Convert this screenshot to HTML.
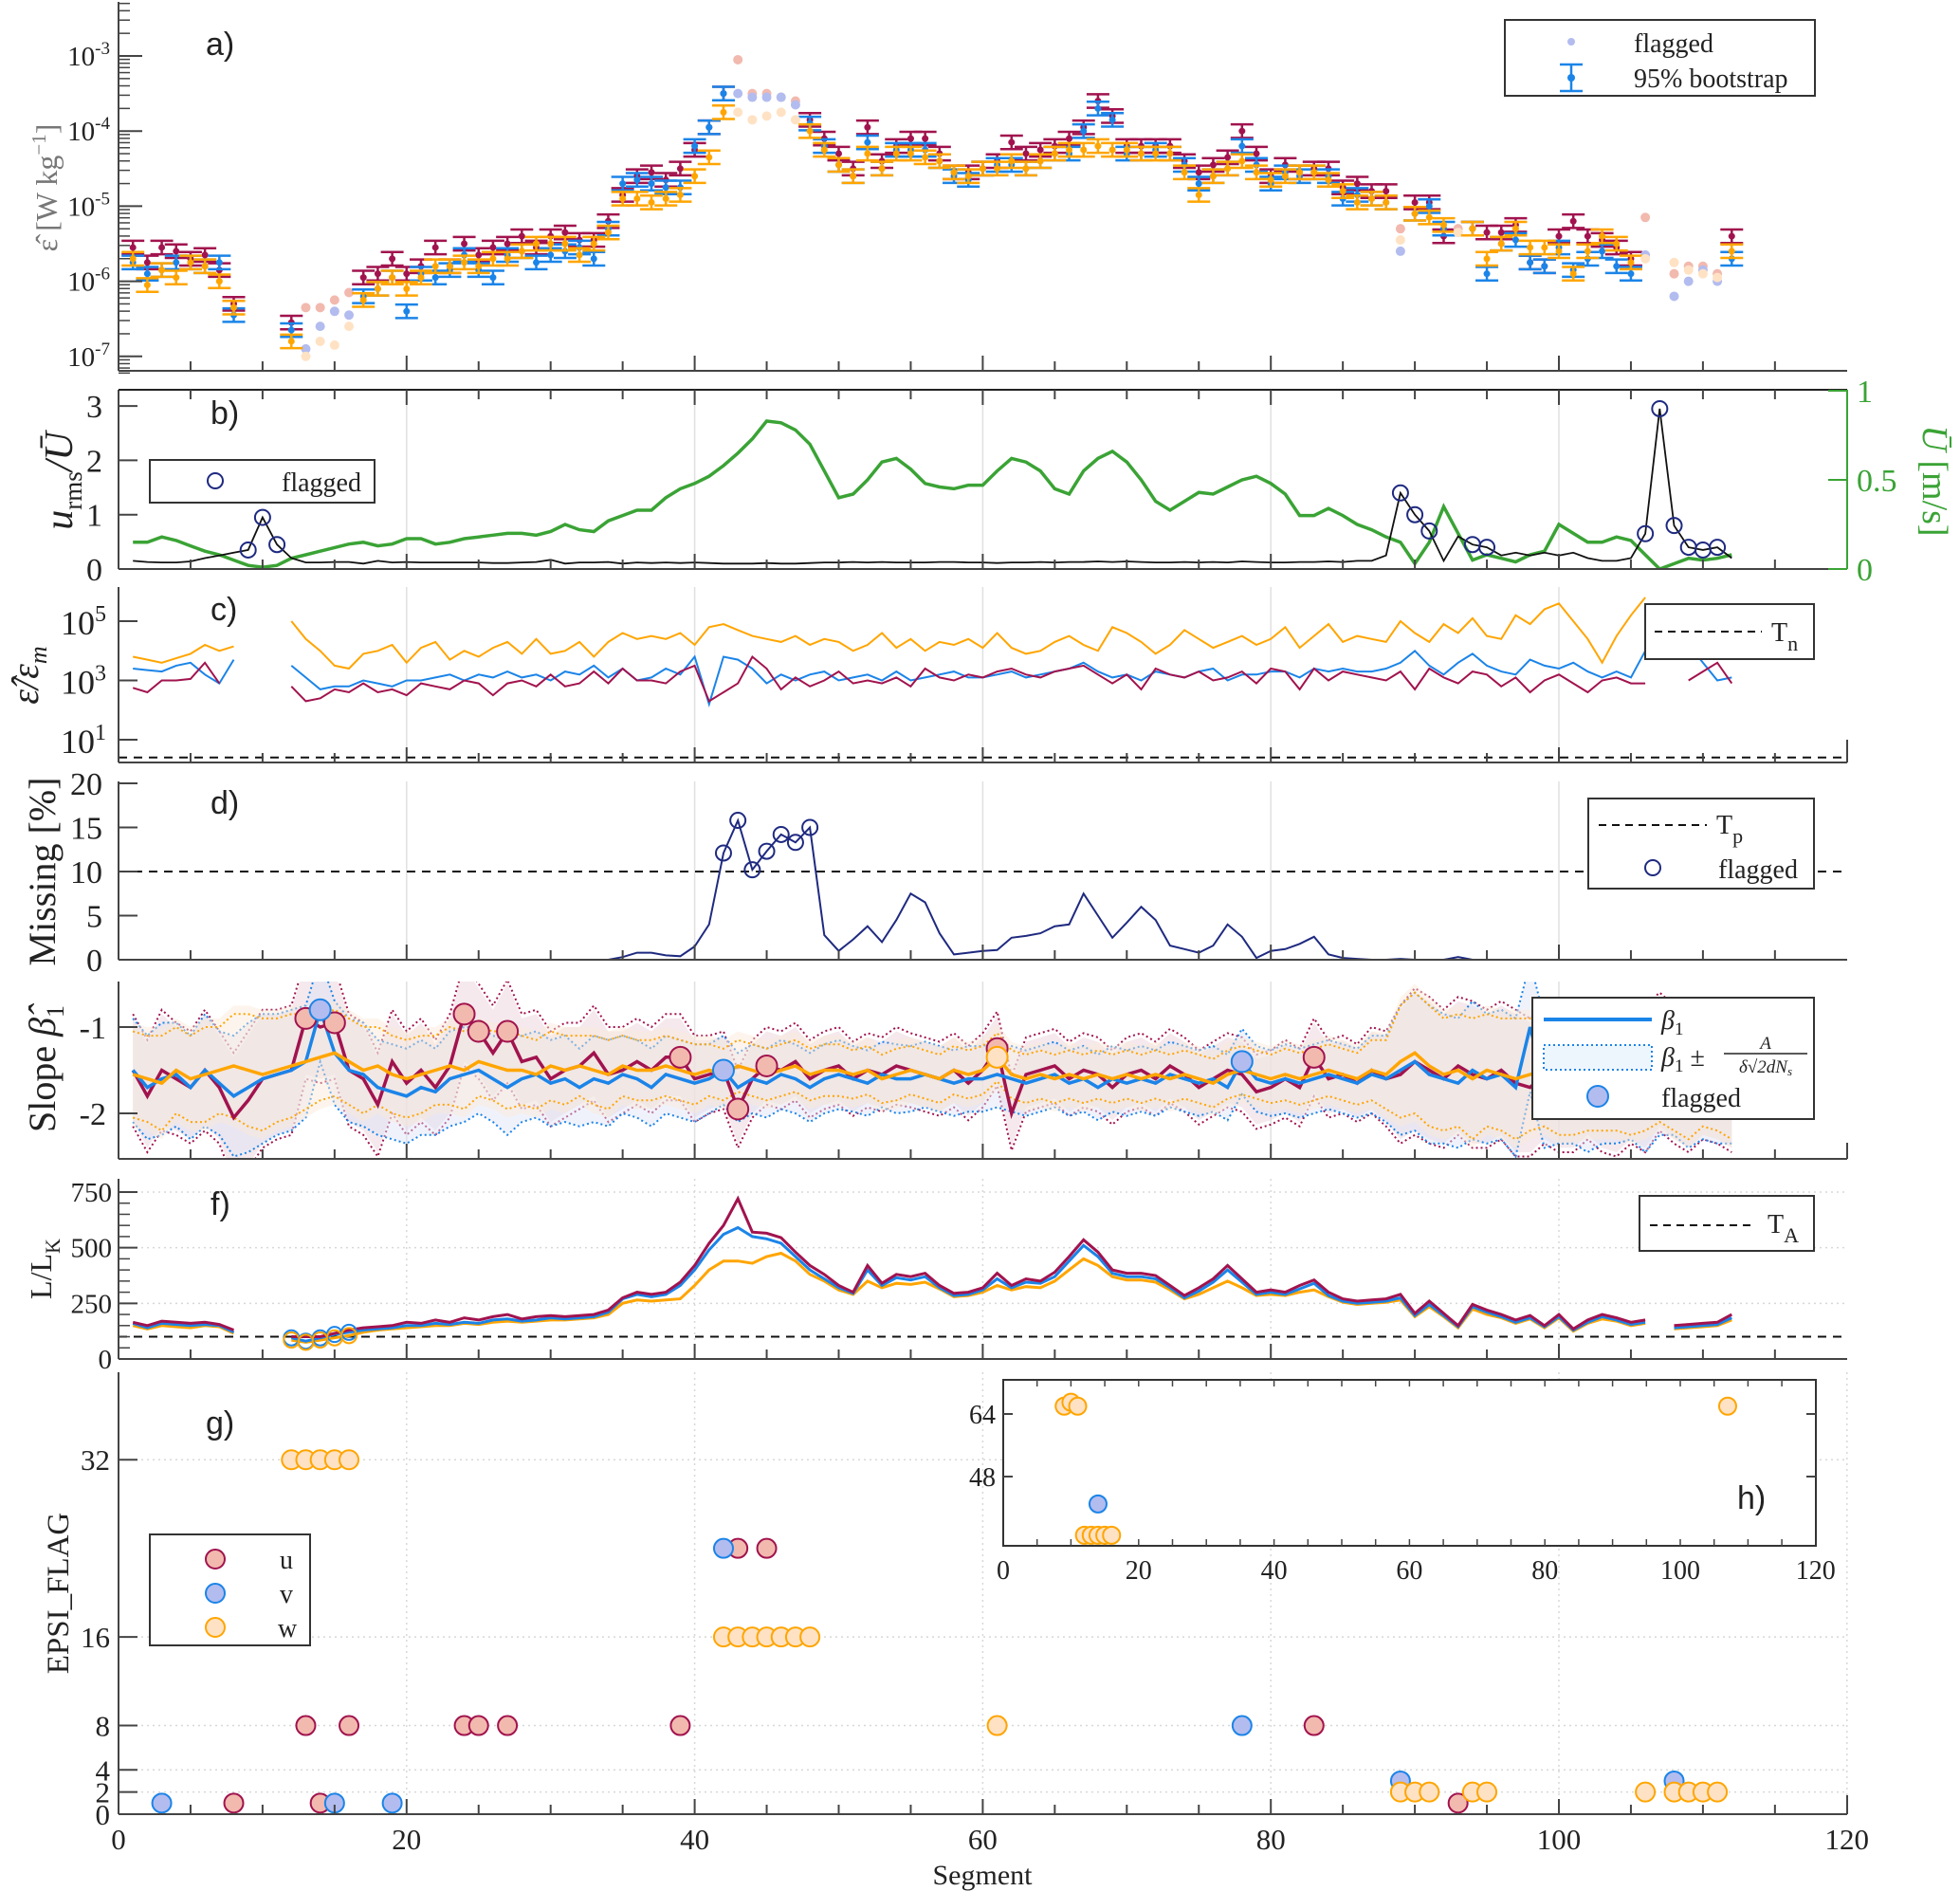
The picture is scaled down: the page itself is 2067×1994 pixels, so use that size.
<!DOCTYPE html>
<html><head><meta charset="utf-8"><style>
html,body{margin:0;padding:0;background:#fff;}
svg{display:block;font-family:"Liberation Serif",serif;}
svg text{font-family:"Liberation Serif",serif;}
</style></head><body>
<svg id="chart" xmlns="http://www.w3.org/2000/svg" width="2067" height="1994" viewBox="0 0 2067 1994">
<defs>
<clipPath id="clipA"><rect x="125" y="0" width="1823" height="391"/></clipPath>
<clipPath id="clipB"><rect x="125" y="411" width="1823" height="189"/></clipPath>
<clipPath id="clipC"><rect x="125" y="619" width="1823" height="185"/></clipPath>
<clipPath id="clipD"><rect x="125" y="824" width="1823" height="188"/></clipPath>
<clipPath id="clipE"><rect x="125" y="1035" width="1823" height="187"/></clipPath>
<clipPath id="clipF"><rect x="125" y="1243" width="1823" height="190"/></clipPath>
</defs>
<g id="grid"></g>
<g id="marks"></g>
<g id="axes"></g>
<g id="labels" font-size="29" fill="#222">
  <text x="217" y="58" style="font-family:'Liberation Sans',sans-serif" font-size="34">a)</text>
  <text x="222" y="447" style="font-family:'Liberation Sans',sans-serif" font-size="34">b)</text>
  <text x="222" y="654" style="font-family:'Liberation Sans',sans-serif" font-size="34">c)</text>
  <text x="222" y="858" style="font-family:'Liberation Sans',sans-serif" font-size="34">d)</text>
  <text x="222" y="1281" style="font-family:'Liberation Sans',sans-serif" font-size="34">f)</text>
  <text x="217" y="1512" style="font-family:'Liberation Sans',sans-serif" font-size="34">g)</text>
  <text x="1832" y="1591" style="font-family:'Liberation Sans',sans-serif" font-size="34">h)</text>
  <text transform="translate(60,198) rotate(-90)" text-anchor="middle" font-size="32" fill="#777">ε̂ [W kg<tspan font-size="21" dy="-12">−1</tspan><tspan dy="12">]</tspan></text>
  <text transform="translate(76,507) rotate(-90)" text-anchor="middle" font-size="42" font-style="italic">u<tspan font-size="27" font-style="normal" dy="10">rms</tspan><tspan dy="-10">/Ū</tspan></text>
  <text transform="translate(2028,507) rotate(90)" text-anchor="middle" font-size="38" fill="#3aa335"><tspan font-style="italic">Ū</tspan> [m/s]</text>
  <text transform="translate(40,712) rotate(-90)" text-anchor="middle" font-size="40" font-style="italic">ε̂/ε<tspan font-size="26" dy="9">m</tspan></text>
  <text transform="translate(58,919) rotate(-90)" text-anchor="middle" font-size="40">Missing [%]</text>
  <text transform="translate(58,1127) rotate(-90)" text-anchor="middle" font-size="40">Slope <tspan font-style="italic">β̂</tspan><tspan font-size="26" dy="9">1</tspan></text>
  <text transform="translate(54,1338) rotate(-90)" text-anchor="middle" font-size="32">L/L<tspan font-size="22" dy="9">K</tspan></text>
  <text transform="translate(72,1680) rotate(-90)" text-anchor="middle" font-size="33">EPSI_FLAG</text>
  <text x="1036" y="1987" text-anchor="middle" font-size="30">Segment</text>
</g>
<g id="legends" font-size="28" fill="#222">
  <g>
    <rect x="1587" y="21" width="327" height="80" fill="#fff" stroke="#333" stroke-width="2"/>
    <circle cx="1657" cy="44" r="4" fill="#b3bcef"/>
    <text x="1723" y="55">flagged</text>
    <line x1="1657" y1="68" x2="1657" y2="96" stroke="#1b84e8" stroke-width="2.5"/>
    <line x1="1645" y1="68" x2="1669" y2="68" stroke="#1b84e8" stroke-width="2.5"/>
    <line x1="1645" y1="96" x2="1669" y2="96" stroke="#1b84e8" stroke-width="2.5"/>
    <circle cx="1657" cy="82" r="4" fill="#1b84e8"/>
    <text x="1723" y="92">95% bootstrap</text>
  </g>
  <g>
    <rect x="158" y="485" width="237" height="45" fill="#fff" stroke="#333" stroke-width="2"/>
    <circle cx="227" cy="507" r="8" fill="none" stroke="#1f2a80" stroke-width="2"/>
    <text x="297" y="518">flagged</text>
  </g>
  <g>
    <rect x="1735" y="637" width="178" height="58" fill="#fff" stroke="#333" stroke-width="2"/>
    <line x1="1745" y1="666" x2="1858" y2="666" stroke="#111" stroke-width="2" stroke-dasharray="8,6"/>
    <text x="1868" y="676">T<tspan font-size="22" dy="10">n</tspan></text>
  </g>
  <g>
    <rect x="1675" y="842" width="238" height="95" fill="#fff" stroke="#333" stroke-width="2"/>
    <line x1="1686" y1="870" x2="1800" y2="870" stroke="#111" stroke-width="2" stroke-dasharray="8,6"/>
    <text x="1810" y="879">T<tspan font-size="22" dy="10">p</tspan></text>
    <circle cx="1743" cy="915" r="8" fill="none" stroke="#1f2a80" stroke-width="2"/>
    <text x="1812" y="926">flagged</text>
  </g>
  <g>
    <rect x="1616" y="1052" width="297" height="128" fill="#fff" stroke="#333" stroke-width="2"/>
    <line x1="1628" y1="1075" x2="1742" y2="1075" stroke="#1b84e8" stroke-width="4"/>
    <text x="1752" y="1085" font-style="italic">β<tspan font-size="19" font-style="normal" dy="6">1</tspan></text>
    <rect x="1628" y="1102" width="114" height="26" fill="#eef6fd" stroke="#1b84e8" stroke-width="2" stroke-dasharray="2,3"/>
    <text x="1752" y="1124" font-style="italic">β<tspan font-size="19" font-style="normal" dy="6">1</tspan><tspan dy="-6" font-style="normal"> ±</tspan></text>
    <text x="1862" y="1106" font-size="19" font-style="italic" text-anchor="middle">A</text>
    <line x1="1818" y1="1111" x2="1906" y2="1111" stroke="#222" stroke-width="1.5"/>
    <text x="1862" y="1131" font-size="19" font-style="italic" text-anchor="middle">δ√2dN<tspan font-size="13" dy="3">s</tspan></text>
    <circle cx="1685" cy="1156" r="11" fill="#b3bcef" stroke="#1b84e8" stroke-width="2"/>
    <text x="1752" y="1167">flagged</text>
  </g>
  <g>
    <rect x="1729" y="1261" width="184" height="58" fill="#fff" stroke="#333" stroke-width="2"/>
    <line x1="1740" y1="1292" x2="1852" y2="1292" stroke="#111" stroke-width="2" stroke-dasharray="8,6"/>
    <text x="1864" y="1300">T<tspan font-size="22" dy="10">A</tspan></text>
  </g>
  <g>
    <rect x="158" y="1618" width="169" height="117" fill="#fff" stroke="#333" stroke-width="2"/>
    <circle cx="227" cy="1644" r="10" fill="#f2b9ae" stroke="#a1134e" stroke-width="2"/>
    <text x="295" y="1654">u</text>
    <circle cx="227" cy="1680" r="10" fill="#b3bcef" stroke="#1b84e8" stroke-width="2"/>
    <text x="295" y="1690">v</text>
    <circle cx="227" cy="1716" r="10" fill="#ffe2c4" stroke="#ffa500" stroke-width="2"/>
    <text x="293" y="1726">w</text>
  </g>
</g>
</svg>
<script>
// ---------- DATA (index 0 = segment 1) ----------
const segCount = 112;
const epsU = [-5.55,-5.75,-5.55,-5.6,-5.7,-5.65,-5.85,-6.3,null,null,
null,-6.55,-6.35,-6.35,-6.25,-6.15,-5.95,-5.9,-5.7,-5.9,
-5.8,-5.55,-5.8,-5.5,-5.65,-5.55,-5.5,-5.4,-5.55,-5.4,
-5.35,-5.45,-5.45,-5.2,-4.85,-4.6,-4.55,-4.65,-4.5,-4.25,
-3.95,-3.5,-3.05,-3.5,-3.5,-3.55,-3.6,-3.85,-4.1,-4.3,
-4.5,-3.95,-4.4,-4.2,-4.1,-4.1,-4.3,-4.55,-4.55,-4.5,
-4.4,-4.15,-4.3,-4.25,-4.2,-4.1,-3.95,-3.6,-3.8,-4.2,
-4.2,-4.2,-4.2,-4.4,-4.55,-4.45,-4.35,-4.0,-4.3,-4.6,
-4.45,-4.55,-4.5,-4.5,-4.75,-4.7,-4.8,-4.8,-5.3,-4.95,
-4.95,-5.4,-5.3,-5.3,-5.35,-5.35,-5.25,-5.75,-5.8,-5.4,
-5.2,-5.4,-5.45,-5.55,-5.7,-5.15,null,-5.9,-5.8,-5.8,
-5.9,-5.4];
const epsV = [-5.75,-5.9,-5.85,-5.75,-5.75,-5.8,-5.75,-6.45,null,null,
null,-6.65,-6.9,-6.6,-6.4,-6.45,-6.2,-6.1,-5.95,-6.4,
-5.9,-5.95,-5.85,-5.65,-5.85,-5.95,-5.65,-5.6,-5.75,-5.65,
-5.6,-5.55,-5.7,-5.3,-4.7,-4.65,-4.7,-4.75,-4.75,-4.2,
-3.95,-3.5,-3.5,-3.55,-3.55,-3.55,-3.65,-3.9,-4.2,-4.45,
-4.6,-4.15,-4.5,-4.25,-4.25,-4.25,-4.4,-4.6,-4.65,-4.5,
-4.45,-4.45,-4.5,-4.4,-4.3,-4.3,-4.0,-3.7,-3.85,-4.3,
-4.3,-4.25,-4.3,-4.45,-4.7,-4.6,-4.5,-4.2,-4.45,-4.7,
-4.55,-4.6,-4.55,-4.6,-4.9,-4.85,-4.9,-4.95,-5.6,-5.1,
-5.0,-5.3,-5.35,-5.3,-5.9,-5.5,-5.45,-5.75,-5.8,-5.55,
-5.85,-5.7,-5.6,-5.8,-5.9,-5.65,null,-6.2,-6.0,-5.85,
-6.0,-5.7];
const epsW = [-5.7,-6.05,-5.85,-5.95,-5.75,-5.8,-6.0,-6.35,null,null,
null,-6.8,-7.0,-6.8,-6.85,-6.6,-6.25,-6.1,-5.95,-6.1,
-5.95,-5.8,-5.8,-5.75,-5.8,-5.7,-5.7,-5.6,-5.5,-5.5,
-5.5,-5.65,-5.5,-5.35,-4.9,-4.9,-4.95,-4.9,-4.85,-4.6,
-4.35,-3.75,-3.75,-3.85,-3.8,-3.75,-3.85,-4.0,-4.25,-4.45,
-4.6,-4.3,-4.5,-4.3,-4.3,-4.35,-4.4,-4.55,-4.6,-4.5,
-4.5,-4.4,-4.5,-4.4,-4.3,-4.25,-4.25,-4.2,-4.25,-4.25,
-4.3,-4.3,-4.3,-4.55,-4.85,-4.6,-4.5,-4.4,-4.55,-4.65,
-4.6,-4.55,-4.55,-4.65,-4.8,-4.95,-4.9,-4.95,-5.45,-5.1,
-5.15,-5.25,-5.35,-5.3,-5.7,-5.5,-5.3,-5.55,-5.55,-5.6,
-5.9,-5.6,-5.4,-5.5,-5.75,-5.7,null,-5.75,-5.85,-5.9,
-5.95,-5.6];
const flaggedA = [13,14,15,16,43,44,45,46,47,89,93,106,108,109,110,111];

const urmsRatio = [0.15,0.13,0.12,0.12,0.14,0.2,0.25,0.3,0.35,0.95,
0.45,0.2,0.12,0.12,0.13,0.13,0.1,0.15,0.12,0.13,
0.12,0.12,0.12,0.12,0.12,0.11,0.11,0.12,0.13,0.17,
0.1,0.12,0.12,0.13,0.1,0.12,0.11,0.12,0.11,0.12,
0.11,0.1,0.1,0.1,0.11,0.1,0.1,0.11,0.12,0.12,
0.13,0.12,0.13,0.12,0.12,0.12,0.13,0.13,0.12,0.12,
0.11,0.12,0.12,0.13,0.12,0.13,0.13,0.14,0.13,0.14,
0.13,0.12,0.12,0.13,0.12,0.13,0.12,0.14,0.13,0.12,
0.12,0.13,0.13,0.14,0.13,0.15,0.15,0.25,1.4,1.0,
0.7,0.15,0.6,0.45,0.4,0.25,0.3,0.25,0.3,0.25,
0.3,0.2,0.15,0.15,0.2,0.65,2.95,0.8,0.4,0.35,
0.4,0.2];
const flaggedB = [9,10,11,89,90,91,94,95,106,107,108,109,110,111];
const meanU = [0.15,0.15,0.18,0.16,0.13,0.1,0.08,0.05,0.02,0.01,
0.02,0.06,0.08,0.1,0.12,0.14,0.15,0.13,0.14,0.17,
0.17,0.14,0.15,0.17,0.18,0.19,0.2,0.2,0.19,0.21,
0.25,0.22,0.21,0.27,0.3,0.33,0.33,0.4,0.45,0.48,
0.52,0.58,0.65,0.73,0.83,0.82,0.78,0.7,0.55,0.4,
0.42,0.5,0.6,0.62,0.56,0.48,0.46,0.45,0.47,0.47,
0.55,0.62,0.6,0.55,0.45,0.42,0.55,0.62,0.66,0.6,
0.5,0.38,0.33,0.38,0.43,0.42,0.46,0.5,0.52,0.48,
0.42,0.3,0.3,0.34,0.3,0.25,0.22,0.18,0.15,0.03,
0.15,0.35,0.2,0.05,0.08,0.06,0.04,0.08,0.1,0.25,
0.2,0.15,0.15,0.18,0.16,0.08,0.0,0.03,0.06,0.05,
0.06,0.08];

const ratioU = [2.75,2.6,3.0,3.0,3.05,3.6,2.9,null,null,null,
null,2.8,2.3,2.4,2.7,2.6,2.9,2.6,2.7,2.5,
2.9,2.8,2.7,3.0,2.9,2.5,2.9,3.0,2.8,3.2,
2.8,2.9,3.3,2.9,3.4,3.0,3.0,2.9,3.3,3.5,
2.3,2.6,2.9,3.8,3.4,2.7,3.1,2.8,3.0,3.3,
2.9,3.0,2.9,3.1,2.8,3.4,3.1,3.0,3.2,3.1,
3.3,3.4,3.2,3.1,3.3,3.4,3.5,3.2,2.9,3.2,
2.7,3.4,3.2,3.1,3.3,3.0,3.1,3.3,2.9,3.4,
3.3,2.7,3.4,3.0,3.3,3.2,3.1,3.0,3.3,2.7,
3.4,3.1,2.9,3.3,3.2,2.8,3.1,2.6,3.0,3.2,
2.9,2.6,3.0,3.1,2.9,2.9,null,null,3.0,3.3,
3.6,2.9];
const ratioV = [3.4,3.35,3.3,3.5,3.6,3.2,2.9,3.7,null,null,
null,3.5,3.1,2.7,2.8,2.8,3.0,2.9,2.8,3.0,
3.0,3.1,3.2,3.0,3.2,3.1,3.3,3.1,3.2,3.0,
3.3,3.2,3.5,3.1,3.4,3.0,3.1,3.4,3.2,3.8,
2.2,3.8,3.7,3.4,2.9,3.2,3.0,3.2,3.3,3.0,
3.1,3.2,3.0,3.3,3.0,3.1,3.2,3.3,3.1,3.1,
3.2,3.3,3.1,3.2,3.3,3.4,3.6,3.3,3.1,3.2,
3.0,3.3,3.2,3.1,3.3,3.4,3.0,3.2,3.2,3.3,
3.3,3.1,3.4,3.3,3.4,3.3,3.3,3.4,3.6,4.0,
3.5,3.2,3.6,3.9,3.5,3.3,3.2,3.7,3.5,3.4,
3.6,3.3,3.1,3.3,3.1,4.0,null,null,4.2,3.6,
3.0,3.1];
const ratioW = [3.8,3.7,3.6,3.75,3.9,4.2,4.0,4.15,null,null,
null,5.0,4.4,4.0,3.5,3.4,3.9,4.0,4.2,3.6,
4.1,4.3,3.7,4.0,3.8,4.1,4.3,3.9,4.4,3.9,
4.0,4.3,3.8,4.3,4.6,4.4,4.5,4.4,4.6,4.2,
4.8,4.9,4.7,4.5,4.4,4.3,4.5,4.2,4.4,4.3,
4.0,4.2,4.6,4.1,4.4,4.0,4.3,4.2,4.4,4.1,
4.6,4.1,3.9,4.0,4.3,4.5,4.2,4.0,4.8,4.6,
4.3,3.9,4.2,4.7,4.4,4.1,4.3,4.5,4.2,4.4,
4.8,4.1,4.5,4.9,4.3,4.5,4.4,4.3,5.0,4.6,
4.3,4.9,4.6,5.1,4.5,4.4,5.2,4.9,5.4,5.6,
5.0,4.4,3.6,4.5,5.2,5.8,null,null,4.8,5.1,
4.3,4.6];
const thresholdN = 0.4;

const missingPct = [0,0,0,0,0,0,0,0,0,0,
0,0,0,0,0,0,0,0,0,0,
0,0,0,0,0,0,0,0,0,0,
0,0,0,0,0.3,0.8,0.8,0.5,0.4,1.5,
4.0,12.1,15.8,10.2,12.3,14.2,13.3,15.0,2.8,1.0,
2.3,3.8,2.0,4.5,7.5,6.5,3.0,0.6,0.8,1.0,
1.1,2.5,2.7,3.0,3.8,4.0,7.5,5.0,2.5,4.2,
6.0,4.5,1.6,1.2,0.8,1.6,4.0,2.6,0.2,1.0,
1.2,1.8,2.6,0.6,0.2,0.1,0,0,0.1,0,
0,0,0.3,0,0,0,0,0,0,0,
0,0,0,0,0,0,0,0,0,0,
0,0];
const flaggedD = [42,43,44,45,46,47,48];
const thresholdP = 10;

const slopeU = [-1.5,-1.8,-1.5,-1.6,-1.7,-1.5,-1.7,-2.05,-1.85,-1.6,
-1.55,-1.5,-0.9,-1.0,-0.95,-1.5,-1.6,-1.9,-1.4,-1.65,
-1.5,-1.7,-1.45,-0.85,-1.05,-1.3,-1.05,-1.4,-1.35,-1.6,
-1.5,-1.45,-1.3,-1.55,-1.5,-1.4,-1.5,-1.35,-1.35,-1.6,
-1.55,-1.5,-1.95,-1.6,-1.45,-1.5,-1.4,-1.6,-1.5,-1.45,
-1.6,-1.5,-1.55,-1.45,-1.5,-1.55,-1.6,-1.5,-1.65,-1.5,
-1.25,-2.0,-1.55,-1.5,-1.45,-1.6,-1.5,-1.55,-1.7,-1.55,
-1.5,-1.6,-1.45,-1.55,-1.7,-1.6,-1.5,-1.55,-1.75,-1.7,
-1.6,-1.7,-1.35,-1.6,-1.55,-1.65,-1.5,-1.6,-1.55,-1.4,
-1.5,-1.6,-1.45,-1.55,-1.6,-1.5,-1.65,-1.7,-1.55,-1.6,
-1.65,-1.5,-1.6,-1.7,-1.55,-1.6,-1.4,-1.55,-1.6,-1.5,
-1.55,-1.6];
const slopeV = [-1.5,-1.7,-1.6,-1.55,-1.7,-1.5,-1.65,-1.8,-1.7,-1.6,
-1.55,-1.5,-1.4,-0.8,-1.3,-1.5,-1.55,-1.7,-1.75,-1.8,
-1.7,-1.75,-1.6,-1.55,-1.5,-1.6,-1.7,-1.6,-1.55,-1.65,
-1.6,-1.7,-1.6,-1.65,-1.55,-1.6,-1.7,-1.55,-1.6,-1.65,
-1.6,-1.5,-1.7,-1.6,-1.65,-1.55,-1.6,-1.7,-1.6,-1.55,
-1.6,-1.65,-1.55,-1.6,-1.6,-1.55,-1.6,-1.65,-1.6,-1.6,
-1.55,-1.6,-1.65,-1.6,-1.55,-1.65,-1.6,-1.7,-1.6,-1.65,
-1.6,-1.65,-1.55,-1.6,-1.65,-1.6,-1.7,-1.4,-1.6,-1.65,
-1.6,-1.65,-1.6,-1.55,-1.6,-1.65,-1.55,-1.6,-1.5,-1.4,
-1.55,-1.6,-1.65,-1.5,-1.6,-1.55,-1.7,-1.0,-1.65,-1.55,
-1.6,-1.7,-1.55,-1.6,-1.55,-1.65,-1.5,-1.5,-1.6,-1.55,
-1.6,-1.55];
const slopeW = [-1.55,-1.6,-1.65,-1.5,-1.6,-1.55,-1.5,-1.45,-1.5,-1.55,
-1.5,-1.45,-1.4,-1.35,-1.3,-1.4,-1.5,-1.45,-1.55,-1.6,
-1.55,-1.5,-1.45,-1.5,-1.4,-1.45,-1.5,-1.5,-1.55,-1.45,
-1.5,-1.45,-1.5,-1.55,-1.45,-1.5,-1.5,-1.45,-1.5,-1.55,
-1.5,-1.55,-1.45,-1.5,-1.55,-1.5,-1.45,-1.55,-1.5,-1.5,
-1.55,-1.5,-1.6,-1.55,-1.5,-1.55,-1.6,-1.5,-1.55,-1.5,
-1.35,-1.55,-1.6,-1.55,-1.6,-1.55,-1.6,-1.55,-1.6,-1.55,
-1.6,-1.55,-1.6,-1.55,-1.6,-1.65,-1.55,-1.5,-1.55,-1.6,
-1.55,-1.6,-1.55,-1.5,-1.55,-1.6,-1.5,-1.55,-1.4,-1.3,
-1.45,-1.55,-1.5,-1.6,-1.5,-1.55,-1.6,-1.55,-1.5,-1.55,
-1.6,-1.55,-1.5,-1.55,-1.6,-1.5,-1.45,-1.55,-1.6,-1.5,
-1.55,-1.6];
const slopeCI = [0.6,0.6,0.65,0.6,0.6,0.65,0.6,0.7,0.75,0.75,
0.7,0.7,0.65,0.6,0.6,0.6,0.6,0.55,0.55,0.55,
0.55,0.5,0.55,0.55,0.5,0.5,0.55,0.5,0.5,0.5,
0.5,0.45,0.5,0.5,0.45,0.45,0.45,0.45,0.45,0.45,
0.4,0.4,0.4,0.4,0.4,0.4,0.4,0.4,0.4,0.4,
0.38,0.38,0.38,0.4,0.38,0.38,0.38,0.38,0.38,0.38,
0.38,0.38,0.38,0.38,0.38,0.38,0.38,0.38,0.38,0.38,
0.38,0.38,0.38,0.38,0.38,0.38,0.38,0.38,0.38,0.38,
0.4,0.4,0.4,0.4,0.4,0.4,0.45,0.5,0.75,0.8,
0.8,0.75,0.75,0.8,0.75,0.75,0.8,0.75,0.75,0.8,
0.75,0.75,0.8,0.75,0.75,0.8,0.75,0.75,0.8,0.75,
0.75,0.8];
const flaggedEu = [13,15,24,25,27,39,43,45,61,83];
const flaggedEv = [14,42,78];
const flaggedEw = [61];

const lkU = [165,150,170,165,160,165,155,130,null,null,
null,100,100,100,115,130,140,145,150,165,
160,175,165,185,175,190,200,180,190,195,
190,195,200,220,275,300,290,300,345,420,
520,600,720,570,565,545,480,420,380,330,
300,420,340,380,370,385,330,295,300,320,
385,330,360,350,390,460,535,480,400,385,
385,375,330,285,320,360,420,360,300,310,
300,330,355,300,270,260,265,270,290,205,
260,205,150,245,220,200,175,195,150,200,
135,175,200,185,165,175,null,150,155,160,
165,200];
const lkV = [160,140,160,155,150,155,150,120,null,null,
null,95,80,95,110,120,130,135,140,150,
150,160,155,165,160,175,180,170,175,185,
180,185,190,210,270,290,280,290,330,400,
490,560,590,550,540,520,460,400,360,320,
295,400,330,365,355,370,320,285,290,310,
360,320,345,340,370,440,510,460,385,370,
370,360,320,275,305,345,400,345,290,300,
290,315,340,285,260,250,255,260,275,195,
245,195,145,235,210,190,165,185,145,190,
130,165,190,175,155,165,null,140,145,150,
155,185];
const lkW = [150,135,150,145,140,150,145,115,null,null,
null,85,75,85,95,105,120,130,135,140,
145,150,150,160,155,165,170,165,170,175,
175,180,185,200,250,265,260,265,270,330,
400,440,440,430,460,475,440,380,350,310,
290,350,320,340,335,345,315,280,285,300,
330,310,325,320,350,400,450,420,370,355,
355,345,310,270,290,320,350,320,285,290,
285,300,310,280,255,245,250,255,265,190,
235,190,140,225,200,185,160,180,140,185,
125,160,180,170,150,160,null,135,140,145,
150,175];
const flaggedF = [12,13,14,15,16];
const thresholdA = 100;

const flagUseg = [8,14,93,13,16,24,25,27,39,83,43,45];
const flagUval = [1,1,1,8,8,8,8,8,8,8,24,24];
const flagVseg = [3,15,19,78,42,89,108];
const flagVval = [1,1,1,8,24,3,3];
const flagWseg = [12,13,14,15,16,42,43,44,45,46,47,48,61,89,90,91,94,95,106,108,109,110,111];
const flagWval = [32,32,32,32,32,16,16,16,16,16,16,16,8,2,2,2,2,2,2,2,2,2,2];
const insetWseg = [9,10,11,107,12,13,14,15,16];
const insetWval = [66,67,66,66,33,33,33,33,33];
const insetVseg = [14];
const insetVval = [41];

const xTickLabels = [0,20,40,60,80,100,120];
const gTicks = [0,2,4,8,16,32];

// ---------- SCALES ----------
const NS = "http://www.w3.org/2000/svg";
const X = s => 125 + s * 15.19;
const yA = L => 59 + (-3 - L) * 79.2;
const yB = v => 600 - v * 57.3;
const yBr = u => 600 - u * 188;
const yC = L => 655 + (5 - L) * 31.25;
const yD = p => 1012 - p * 9.3;
const yE = v => 1083 + (-1 - v) * 91;
const yF = v => 1433 - v * 0.2347;
const yG = v => 1913 - v * 11.68;
const Xi = s => 1058 + s * 7.14;
const yI = v => 1491 + (64 - v) * 4.125;

const C = {u:"#a1134e", v:"#1b84e8", w:"#ffa500",
  uf:"#f2b9ae", vf:"#b3bcef", wf:"#ffe2c4", navy:"#1f2a80", green:"#3aa335", ax:"#444"};

const gGrid = document.getElementById('grid');
const gMarks = document.getElementById('marks');
const gAxes = document.getElementById('axes');

function mk(tag, name, attrs, parent) {
  const el = document.createElementNS(NS, tag);
  
  
  for (const k in attrs) el.setAttribute(k, attrs[k]);
  parent.appendChild(el);
  return el;
}
function txt(name, x, y, str, attrs, parent) {
  const el = mk('text', name, Object.assign({x:x, y:y, 'font-size':29, fill:'#222', 'font-family':'Liberation Serif, serif'}, attrs || {}), parent);
  el.textContent = str;
  return el;
}
function pathD(arr, yf) {
  let d = "", pen = false;
  arr.forEach((v, i) => {
    if (v === null || v === undefined) { pen = false; return; }
    d += (pen ? "L" : "M") + X(i + 1).toFixed(1) + "," + yf(v).toFixed(1);
    pen = true;
  });
  return d;
}
function line(name, x1, y1, x2, y2, attrs, parent) {
  return mk('line', name, Object.assign({x1:x1, y1:y1, x2:x2, y2:y2, stroke:C.ax, 'stroke-width':2}, attrs || {}), parent);
}

// ---------- GRIDLINES ----------
[20,40,60,80,100].forEach(s => {
  [[411,600],[619,804],[824,1012],[1035,1222]].forEach(r => {
    line('vertical-gridline', X(s), r[0], X(s), r[1], {stroke:'#e0e0e0', 'stroke-width':1.5}, gGrid);
  });
  line('vertical-gridline', X(s), 1243, X(s), 1433, {stroke:'#d8d8d8', 'stroke-width':1.5, 'stroke-dasharray':'2,4'}, gGrid);
  line('vertical-gridline', X(s), 1447, X(s), 1913, {stroke:'#d8d8d8', 'stroke-width':1.5, 'stroke-dasharray':'2,4'}, gGrid);
});
line('vertical-gridline', X(120), 1447, X(120), 1913, {stroke:'#d8d8d8', 'stroke-width':1.5, 'stroke-dasharray':'2,4'}, gGrid);
[0,250,500,750].forEach(v => line('horizontal-gridline', 125, yF(v), 1948, yF(v), {stroke:'#d8d8d8', 'stroke-width':1.5, 'stroke-dasharray':'2,4'}, gGrid));
gTicks.forEach(v => line('horizontal-gridline', 125, yG(v), 1948, yG(v), {stroke:'#d8d8d8', 'stroke-width':1.5, 'stroke-dasharray':'2,4'}, gGrid));

// ---------- PANEL A ----------
const gA = mk('g', 'panel-a-marks', {'clip-path':'url(#clipA)'}, gMarks);
[['u',epsU],['v',epsV],['w',epsW]].forEach(([k, arr]) => {
  arr.forEach((L, i) => {
    if (L === null) return;
    const s = i + 1, x = X(s), y = yA(L);
    if (flaggedA.indexOf(s) >= 0) {
      mk('circle', 'flagged-dot-' + k, {cx:x, cy:y, r:5, fill:C[k + 'f']}, gA);
    } else {
      const y1 = yA(L + 0.09), y2 = yA(L - 0.09);
      mk('line', 'errorbar-' + k, {x1:x, y1:y1, x2:x, y2:y2, stroke:C[k], 'stroke-width':2.5}, gA);
      mk('line', 'errorbar-cap-' + k, {x1:x-12, y1:y1, x2:x+12, y2:y1, stroke:C[k], 'stroke-width':2.5}, gA);
      mk('line', 'errorbar-cap-' + k, {x1:x-12, y1:y2, x2:x+12, y2:y2, stroke:C[k], 'stroke-width':2.5}, gA);
      mk('circle', 'point-' + k, {cx:x, cy:y, r:3.5, fill:C[k]}, gA);
    }
  });
});
line('panel-a-y-axis', 125, 2, 125, 391, {}, gAxes);
line('panel-a-x-axis', 125, 391, 1948, 391, {}, gAxes);
for (let e = -7; e <= -3; e++) {
  line('y-tick', 125, yA(e), 150, yA(e), {}, gAxes);
  const t = txt('y-tick-label', 116, yA(e) + 10, '10', {'text-anchor':'end'}, gAxes);
  const sp = mk('tspan', 'tick-exponent', {'font-size':19, dy:-12}, t);
  sp.textContent = String(e);
  for (let m = 2; m <= 9; m++) {
    const yy = yA(e + Math.log10(m));
    if (yy > 2) line('y-minor-tick', 125, yy, 137, yy, {'stroke-width':1.5}, gAxes);
  }
}
for (let m = 6; m <= 9; m++) line('y-minor-tick', 125, yA(-8 + Math.log10(m)), 137, yA(-8 + Math.log10(m)), {'stroke-width':1.5}, gAxes);

function xTicks(yb, yt, withTop) {
  for (let s = 5; s < 120; s += 5) {
    const big = s % 20 === 0;
    line('x-tick', X(s), yb, X(s), yb - (big ? 16 : 10), {}, gAxes);
    if (withTop) line('x-tick-top', X(s), yt, X(s), yt + (big ? 16 : 10), {}, gAxes);
  }
}
xTicks(391, 0, false);

// ---------- PANEL B ----------
const gB = mk('g', 'panel-b-marks', {'clip-path':'url(#clipB)'}, gMarks);
mk('path', 'mean-speed-line', {d:pathD(meanU, yBr), fill:'none', stroke:C.green, 'stroke-width':3.5}, gB);
mk('path', 'urms-ratio-line', {d:pathD(urmsRatio, yB), fill:'none', stroke:'#111', 'stroke-width':1.8}, gB);
flaggedB.forEach(s => mk('circle', 'flagged-circle', {cx:X(s), cy:yB(urmsRatio[s-1]), r:8, fill:'none', stroke:C.navy, 'stroke-width':2}, gB));
line('panel-b-left-axis', 125, 411, 125, 600, {}, gAxes);
line('panel-b-top-axis', 125, 411, 1948, 411, {stroke:'#222'}, gAxes);
line('panel-b-bottom-axis', 125, 600, 1948, 600, {}, gAxes);
line('panel-b-right-axis', 1948, 411, 1948, 600, {stroke:C.green}, gAxes);
xTicks(600, 411, true);
[0,1,2,3].forEach(v => { line('y-tick', 125, yB(v), 145, yB(v), {}, gAxes); txt('y-tick-label', 108, yB(v) + 12, String(v), {'text-anchor':'end', 'font-size':34}, gAxes); });
[0,0.5,1].forEach(v => { line('right-y-tick', 1948, yBr(v), 1928, yBr(v), {stroke:C.green}, gAxes); txt('right-y-tick-label', 1958, yBr(v) + 12, String(v), {'font-size':34, fill:C.green}, gAxes); });

// ---------- PANEL C ----------
const gC = mk('g', 'panel-c-marks', {'clip-path':'url(#clipC)'}, gMarks);
mk('path', 'ratio-line-w', {d:pathD(ratioW, yC), fill:'none', stroke:C.w, 'stroke-width':2}, gC);
mk('path', 'ratio-line-v', {d:pathD(ratioV, yC), fill:'none', stroke:C.v, 'stroke-width':2}, gC);
mk('path', 'ratio-line-u', {d:pathD(ratioU, yC), fill:'none', stroke:C.u, 'stroke-width':2}, gC);
line('threshold-tn', 125, yC(thresholdN), 1948, yC(thresholdN), {stroke:'#111', 'stroke-dasharray':'9,7'}, gC);
line('panel-c-left-axis', 125, 619, 125, 804, {}, gAxes);
line('panel-c-bottom-axis', 125, 804, 1948, 804, {}, gAxes);
line('panel-c-right-axis', 1948, 780, 1948, 804, {}, gAxes);
xTicks(804, 619, false);
[1,3,5].forEach(e => {
  line('y-tick', 125, yC(e), 145, yC(e), {}, gAxes);
  const t = txt('y-tick-label', 112, yC(e) + 14, '10', {'text-anchor':'end', 'font-size':36}, gAxes);
  const sp = mk('tspan', 'tick-exponent', {'font-size':24, dy:-14}, t);
  sp.textContent = String(e);
});

// ---------- PANEL D ----------
const gD = mk('g', 'panel-d-marks', {'clip-path':'url(#clipD)'}, gMarks);
line('threshold-tp', 125, yD(thresholdP), 1948, yD(thresholdP), {stroke:'#111', 'stroke-dasharray':'9,7'}, gD);
mk('path', 'missing-line', {d:pathD(missingPct, yD), fill:'none', stroke:C.navy, 'stroke-width':2}, gD);
flaggedD.forEach(s => mk('circle', 'flagged-circle', {cx:X(s), cy:yD(missingPct[s-1]), r:8, fill:'none', stroke:C.navy, 'stroke-width':2}, gD));
line('panel-d-left-axis', 125, 824, 125, 1012, {}, gAxes);
line('panel-d-bottom-axis', 125, 1012, 1948, 1012, {}, gAxes);
xTicks(1012, 824, false);
[0,5,10,15,20].forEach(v => { line('y-tick', 125, yD(v), 145, yD(v), {}, gAxes); txt('y-tick-label', 108, yD(v) + 12, String(v), {'text-anchor':'end', 'font-size':34}, gAxes); });

// ---------- PANEL E ----------
const gE = mk('g', 'panel-e-marks', {'clip-path':'url(#clipE)'}, gMarks);
[['u',slopeU,'#e8cfd6'],['v',slopeV,'#dde3f7'],['w',slopeW,'#fbe9d6']].forEach(([k, arr, fc]) => {
  let up = "", dn = "";
  arr.forEach((v, i) => { up += (i ? "L" : "M") + X(i+1).toFixed(1) + "," + yE(v + slopeCI[i]).toFixed(1); });
  for (let i = arr.length - 1; i >= 0; i--) dn += "L" + X(i+1).toFixed(1) + "," + yE(arr[i] - slopeCI[i]).toFixed(1);
  mk('path', 'confidence-band-' + k, {d:up + dn + "Z", fill:fc, 'fill-opacity':0.45, stroke:'none'}, gE);
  const upper = arr.map((v, i) => v + slopeCI[i] + (k === 'u' ? 0.05 : k === 'w' ? -0.1 : 0));
  const lower = arr.map((v, i) => v - slopeCI[i] - (k === 'u' ? 0.05 : k === 'w' ? -0.1 : 0));
  mk('path', 'band-upper-' + k, {d:pathD(upper, yE), fill:'none', stroke:C[k], 'stroke-width':2, 'stroke-dasharray':'2,3'}, gE);
  mk('path', 'band-lower-' + k, {d:pathD(lower, yE), fill:'none', stroke:C[k], 'stroke-width':2, 'stroke-dasharray':'2,3'}, gE);
});
mk('path', 'slope-line-u', {d:pathD(slopeU, yE), fill:'none', stroke:C.u, 'stroke-width':3.5}, gE);
mk('path', 'slope-line-v', {d:pathD(slopeV, yE), fill:'none', stroke:C.v, 'stroke-width':3.5}, gE);
mk('path', 'slope-line-w', {d:pathD(slopeW, yE), fill:'none', stroke:C.w, 'stroke-width':3.5}, gE);
flaggedEu.forEach(s => mk('circle', 'flagged-slope-u', {cx:X(s), cy:yE(slopeU[s-1]), r:11, fill:C.uf, stroke:C.u, 'stroke-width':2}, gE));
flaggedEv.forEach(s => mk('circle', 'flagged-slope-v', {cx:X(s), cy:yE(slopeV[s-1]), r:11, fill:C.vf, stroke:C.v, 'stroke-width':2}, gE));
flaggedEw.forEach(s => mk('circle', 'flagged-slope-w', {cx:X(s), cy:yE(slopeW[s-1]), r:11, fill:C.wf, stroke:C.w, 'stroke-width':2}, gE));
line('panel-e-left-axis', 125, 1035, 125, 1222, {}, gAxes);
line('panel-e-bottom-axis', 125, 1222, 1948, 1222, {}, gAxes);
xTicks(1222, 1035, false);
line('x-tick', 1948, 1222, 1948, 1205, {}, gAxes);
[-1,-2].forEach(v => { line('y-tick', 125, yE(v), 145, yE(v), {}, gAxes); txt('y-tick-label', 112, yE(v) + 12, String(v), {'text-anchor':'end', 'font-size':34}, gAxes); });

// ---------- PANEL F ----------
const gF = mk('g', 'panel-f-marks', {'clip-path':'url(#clipF)'}, gMarks);
line('threshold-ta', 125, yF(thresholdA), 1948, yF(thresholdA), {stroke:'#111', 'stroke-dasharray':'9,7'}, gF);
mk('path', 'lk-line-w', {d:pathD(lkW, yF), fill:'none', stroke:C.w, 'stroke-width':3}, gF);
mk('path', 'lk-line-v', {d:pathD(lkV, yF), fill:'none', stroke:C.v, 'stroke-width':3}, gF);
mk('path', 'lk-line-u', {d:pathD(lkU, yF), fill:'none', stroke:C.u, 'stroke-width':3}, gF);
flaggedF.forEach(s => {
  mk('circle', 'flagged-lk-v', {cx:X(s), cy:yF(lkV[s-1]), r:8, fill:'none', stroke:C.v, 'stroke-width':2}, gF);
  mk('circle', 'flagged-lk-w', {cx:X(s), cy:yF(lkW[s-1]), r:8, fill:'none', stroke:C.w, 'stroke-width':2}, gF);
});
line('panel-f-left-axis', 125, 1243, 125, 1433, {}, gAxes);
line('panel-f-bottom-axis', 125, 1433, 1948, 1433, {}, gAxes);
xTicks(1433, 1243, false);
[0,250,500,750].forEach(v => { line('y-tick', 125, yF(v), 145, yF(v), {}, gAxes); txt('y-tick-label', 118, yF(v) + 10, String(v), {'text-anchor':'end'}, gAxes); });
[50,100,150,200,300,350,400,450,550,600,650,700].forEach(v => line('y-minor-tick', 125, yF(v), 137, yF(v), {'stroke-width':1.5}, gAxes));

// ---------- PANEL G ----------
const gGm = mk('g', 'panel-g-marks', {}, gMarks);
flagUseg.forEach((s, i) => mk('circle', 'flag-point-u', {cx:X(s), cy:yG(flagUval[i]), r:10, fill:C.uf, stroke:C.u, 'stroke-width':2}, gGm));
flagVseg.forEach((s, i) => mk('circle', 'flag-point-v', {cx:X(s), cy:yG(flagVval[i]), r:10, fill:C.vf, stroke:C.v, 'stroke-width':2}, gGm));
flagWseg.forEach((s, i) => mk('circle', 'flag-point-w', {cx:X(s), cy:yG(flagWval[i]), r:10, fill:C.wf, stroke:C.w, 'stroke-width':2}, gGm));
line('panel-g-left-axis', 125, 1447, 125, 1913, {}, gAxes);
line('panel-g-bottom-axis', 125, 1913, 1948, 1913, {}, gAxes);
for (let s = 5; s < 120; s += 5) line('x-tick', X(s), 1913, X(s), 1913 - (s % 20 === 0 ? 16 : 10), {}, gAxes);
line('x-tick', 1948, 1913, 1948, 1893, {}, gAxes);
gTicks.forEach(v => { line('y-tick', 125, yG(v), 145, yG(v), {}, gAxes); txt('y-tick-label', 116, yG(v) + 11, String(v), {'text-anchor':'end', 'font-size':31}, gAxes); });
xTickLabels.forEach(v => txt('x-tick-label', X(v), 1950, String(v), {'text-anchor':'middle', 'font-size':31}, gAxes));

// ---------- INSET H ----------
const gH = mk('g', 'inset-h', {}, gMarks);
mk('rect', 'inset-background', {x:1058, y:1455, width:857, height:175, fill:'#fff', stroke:'#333', 'stroke-width':2}, gH);
for (let s = 5; s < 120; s += 5) {
  line('inset-x-tick', Xi(s), 1630, Xi(s), 1623, {'stroke-width':1.5}, gH);
  line('inset-x-tick-top', Xi(s), 1455, Xi(s), 1462, {'stroke-width':1.5}, gH);
}
[0,20,40,60,80,100,120].forEach(v => txt('inset-x-tick-label', Xi(v), 1665, String(v), {'text-anchor':'middle', 'font-size':28}, gH));
[48,64].forEach(v => {
  line('inset-y-tick', 1058, yI(v), 1068, yI(v), {}, gH);
  line('inset-y-tick-right', 1915, yI(v), 1905, yI(v), {}, gH);
  txt('inset-y-tick-label', 1050, yI(v) + 10, String(v), {'text-anchor':'end', 'font-size':28}, gH);
});
insetWseg.forEach((s, i) => mk('circle', 'inset-point-w', {cx:Xi(s), cy:yI(insetWval[i]), r:9, fill:C.wf, stroke:C.w, 'stroke-width':2}, gH));
insetVseg.forEach((s, i) => mk('circle', 'inset-point-v', {cx:Xi(s), cy:yI(insetVval[i]), r:9, fill:C.vf, stroke:C.v, 'stroke-width':2}, gH));
</script>
</body></html>
